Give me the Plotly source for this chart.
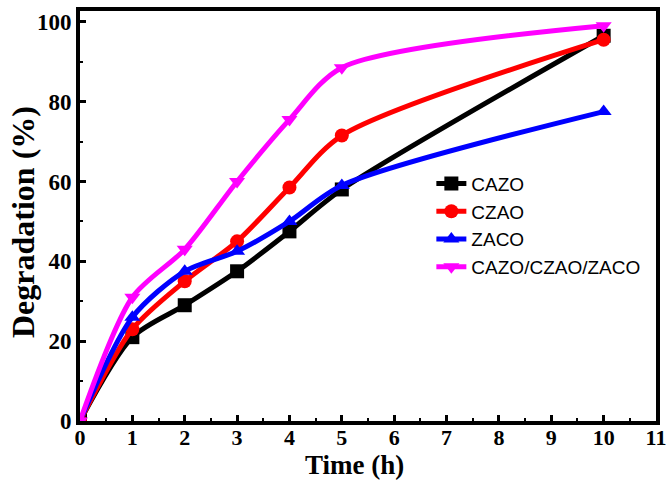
import plotly.graph_objects as go

time_h = [0, 1, 2, 3, 4, 5, 10]
cazo = [0, 21, 29, 37.5, 47.5, 58, 96.5]
czao = [0, 23, 35, 45, 58.5, 71.5, 95.5]
zaco = [0, 26, 37.5, 42.5, 50, 59, 77.5]
mixed = [0, 31, 43, 60, 75.5, 88.5, 99]

series = [
    ("CAZO", cazo, "black", "square"),
    ("CZAO", czao, "red", "circle"),
    ("ZACO", zaco, "blue", "triangle-up"),
    ("CAZO/CZAO/ZACO", mixed, "magenta", "triangle-down"),
]

W, H = 667, 481
ML, MR, MT, MB = 80, 11, 11, 60
PW, PH = W - ML - MR, H - MT - MB

fig = go.Figure()
for name, ys, color, sym in series:
    fig.add_trace(go.Scatter(
        x=time_h, y=ys, name=name, mode="lines+markers",
        line=dict(color=color, width=5, shape="spline", smoothing=0.8),
        marker=dict(color=color, symbol=sym, size=14),
    ))

tickfont = dict(family="Liberation Serif", size=23, color="black", weight="bold")
xtickfont = dict(family="Liberation Serif", size=22, color="black", weight="bold")
titlefont = dict(family="Liberation Serif", size=27, color="black", weight="bold")
fig.update_layout(
    width=W, height=H,
    margin=dict(l=ML, r=MR, t=MT, b=MB),
    plot_bgcolor="white", paper_bgcolor="white",
    showlegend=True,
    legend=dict(x=0.61, y=0.625, xanchor="left", yanchor="top",
                font=dict(family="Liberation Sans", size=19, color="black"),
                bgcolor="rgba(0,0,0,0)", tracegroupgap=0),
    annotations=[
        dict(text="Time (h)", xref="paper", yref="paper",
             x=(354 - ML) / PW, y=-(465 - (H - MB)) / PH,
             xanchor="center", yanchor="middle", showarrow=False, font=titlefont),
        dict(text="Degradation (%)", xref="paper", yref="paper", textangle=-90,
             x=-(ML - 23) / PW, y=((H - MB) - 222) / PH,
             xanchor="center", yanchor="middle", showarrow=False,
             font=dict(family="Liberation Serif", size=32, color="black", weight="bold")),
    ],
)
fig.update_xaxes(
    range=[0, 11], dtick=1, tick0=0, showgrid=False, zeroline=False,
    showline=True, linewidth=4, linecolor="black", mirror=True,
    ticks="inside", ticklen=6, tickwidth=3, tickcolor="black",
    minor=dict(ticks="inside", ticklen=3, tickwidth=2, dtick=0.5, tickcolor="black"),
    tickfont=xtickfont, automargin=False, ticklabelstandoff=-6,
)
fig.update_yaxes(
    range=[0, 102.7], dtick=20, tick0=0, showgrid=False, zeroline=False,
    showline=True, linewidth=4, linecolor="black", mirror=True,
    ticks="inside", ticklen=6, tickwidth=3, tickcolor="black",
    minor=dict(ticks="inside", ticklen=3, tickwidth=2, dtick=10, tickcolor="black"),
    tickfont=tickfont, automargin=False,
)
fig.write_html("out.html")
